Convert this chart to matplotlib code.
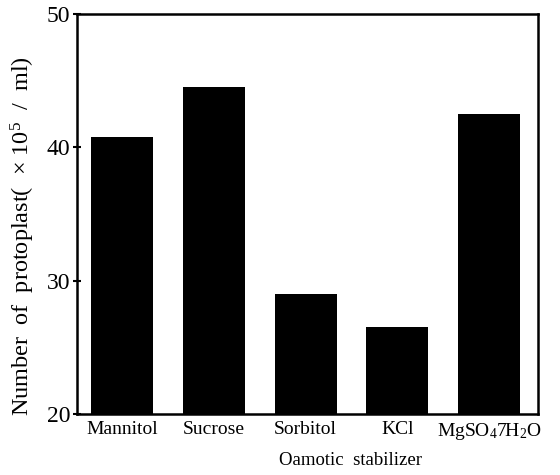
import matplotlib
matplotlib.use("Agg")
import matplotlib.pyplot as plt

plt.rcParams["font.family"] = ["Liberation Serif", "DejaVu Serif"]
plt.rcParams["mathtext.fontset"] = "custom"
plt.rcParams["mathtext.rm"] = "Liberation Serif"
plt.rcParams["mathtext.it"] = "Liberation Serif:italic"

# data
stabilizers = ["Mannitol", "Sucrose", "Sorbitol", "KCl", "MgSO$_4$7H$_2$O"]
protoplasts = [40.8, 44.5, 29.0, 26.5, 42.5]
y_ticks = [20, 30, 40, 50]

fig = plt.figure(figsize=(5.6, 4.75), dpi=100)
ax = fig.add_axes([0.1375, 0.1284, 0.8232, 0.842])

x = list(range(len(stabilizers)))
ax.bar(x, protoplasts, width=0.675, color="black", bottom=0)

ax.set_xlim(-0.49, 4.53)
ax.set_ylim(20, 50)
ax.set_yticks(y_ticks)
ax.set_xticks(x)
ax.set_xticklabels(stabilizers, fontsize=14)
ax.tick_params(axis="x", length=0, pad=5)
ax.tick_params(axis="y", direction="inout", length=6, width=1.5, labelsize=17, pad=2)

for sp in ax.spines.values():
    sp.set_linewidth(1.8)

ax.set_ylabel("Number  of  protoplast(  × 10$^5$  /  ml)", fontsize=17.5)
ax.yaxis.set_label_coords(-0.086, 0.446)
ax.set_xlabel("Oamotic  stabilizer", fontsize=13.5)
ax.xaxis.set_label_coords(0.594, -0.095)

fig.savefig("out.png", dpi=100)
